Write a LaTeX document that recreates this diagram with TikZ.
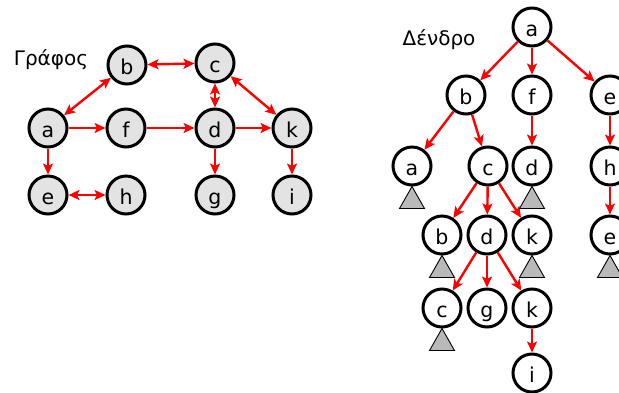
\documentclass[tikz,border=0pt]{standalone}
\usepackage{fontspec}
\setmainfont{DejaVu Sans}
\usetikzlibrary{arrows.meta}
\begin{document}
\begin{tikzpicture}[x=1pt,y=-1pt,
  vtx/.style={circle,draw=black,line width=3pt,minimum size=38pt,inner sep=0pt,
    font=\fontsize{20.5}{24}\selectfont,text height=18pt,text depth=0pt},
  gv/.style={vtx,fill=gray!22},
  tv/.style={vtx,fill=white},
  tip/.style={Stealth[length=11pt,width=10pt,inset=2.5pt]},
  arr/.style={draw=red,line width=2.4pt,-{Stealth[length=11pt,width=10pt,inset=2.5pt]}},
  darr/.style={draw=red,line width=2.4pt,{Stealth[length=11pt,width=10pt,inset=2.5pt]}-{Stealth[length=11pt,width=10pt,inset=2.5pt]}},
  subtree/.style={draw=black,line width=0.9pt,fill=gray!55},
  title/.style={anchor=base,font=\fontsize{20}{24}\selectfont}]
\useasboundingbox (0,0) rectangle (619,392);

% ---- graph ----
\node[title] (gt) at (51,65) {Γράφος};
\node[gv] (b) at (127,65) {b};
\node[gv] (c) at (215,63) {c};
\node[gv] (a) at (48,128) {a};
\node[gv] (f) at (126,128) {f};
\node[gv] (d) at (215,128) {d};
\node[gv] (k) at (292,128) {k};
\node[gv] (e) at (48,195) {e};
\node[gv] (h) at (126,195) {h};
\node[gv] (g) at (215,195) {g};
\node[gv] (i) at (292,195) {i};

\draw[darr] (b) -- (c);
\draw[darr] (a) -- (b);
\draw[darr] (c) -- (d);
\draw[darr] (c) -- (k);
\draw[darr] (e) -- (h);
\draw[arr] (a) -- (f);
\draw[arr] (f) -- (d);
\draw[arr] (d) -- (k);
\draw[arr] (a) -- (e);
\draw[arr] (d) -- (g);
\draw[arr] (k) -- (i);

% ---- search tree ----
\node[title] (tt) at (439,45) {Δένδρο};
\node[tv] (ta) at (532,27) {a};
\node[tv] (tb) at (466,95) {b};
\node[tv] (tf) at (532,95) {f};
\node[tv] (te) at (610,95) {e};
\node[tv] (tba) at (412,166) {a};
\node[tv] (tbc) at (488,166) {c};
\node[tv] (tfd) at (532,166) {d};
\node[tv] (teh) at (610,166) {h};
\node[tv] (tcb) at (442,235) {b};
\node[tv] (tcd) at (487,235) {d};
\node[tv] (tck) at (532,235) {k};
\node[tv] (the) at (610,235) {e};
\node[tv] (tdc) at (442,308) {c};
\node[tv] (tdg) at (487,308) {g};
\node[tv] (tdk) at (532,308) {k};
\node[tv] (tki) at (532,373) {i};

\draw[arr] (ta) -- (tb);
\draw[arr] (ta) -- (tf);
\draw[arr] (ta) -- (te);
\draw[arr] (tb) -- (tba);
\draw[arr] (tb) -- (tbc);
\draw[arr] (tf) -- (tfd);
\draw[arr] (te) -- (teh);
\draw[arr] (tbc) -- (tcb);
\draw[arr] (tbc) -- (tcd);
\draw[arr] (tbc) -- (tck);
\draw[arr] (teh) -- (the);
\draw[arr] (tcd) -- (tdc);
\draw[arr] (tcd) -- (tdg);
\draw[arr] (tcd) -- (tdk);
\draw[arr] (tdk) -- (tki);

% collapsed subtrees
\foreach \n in {tba,tfd,tcb,tck,the,tdc}
  \draw[subtree] (\n.south) -- ++(-12.5,22) -- ++(25,0) -- cycle;
\end{tikzpicture}
\end{document}
